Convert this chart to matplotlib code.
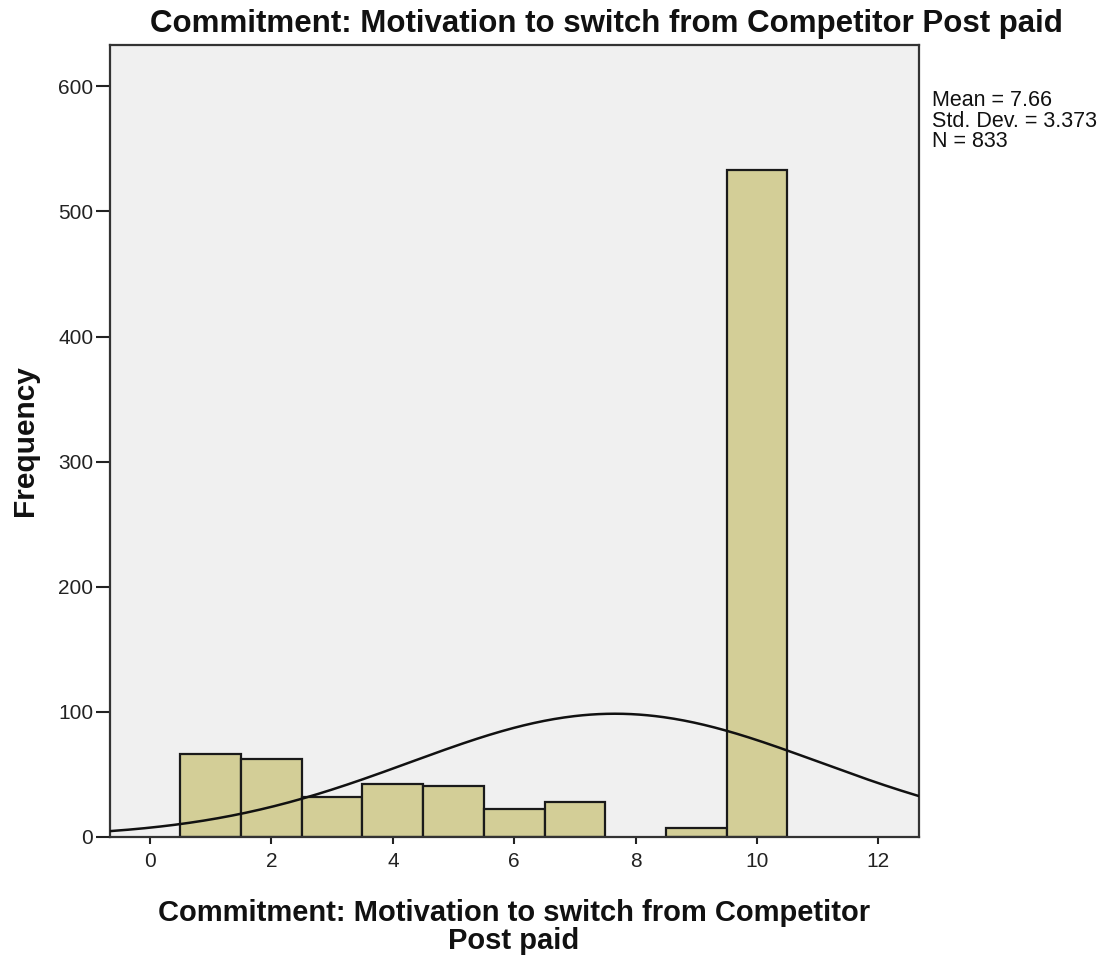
import numpy as np
import matplotlib
matplotlib.use("Agg")
import matplotlib.pyplot as plt

plt.rcParams['font.family'] = ['Liberation Sans', 'DejaVu Sans']

# Histogram of scores (bin centres and counts)
scores = [1, 2, 3, 4, 5, 6, 7, 8, 9, 10]
counts = [66, 62, 32, 42, 41, 22, 28, 0, 7, 533]
mean_val = 7.66
std_val = 3.373
n_total = 833

x_ticks = [0, 2, 4, 6, 8, 10, 12]
y_ticks = [0, 100, 200, 300, 400, 500, 600]

title = "Commitment: Motivation to switch from Competitor Post paid"
x_label = "Commitment: Motivation to switch from Competitor\nPost paid"

fig = plt.figure(figsize=(11.02, 9.58), dpi=100)
W, H = 1102, 958
ax = fig.add_axes([110 / W, 1 - 837 / H, (919 - 110) / W, (837 - 45) / H])
ax.set_facecolor('#F0F0F0')

bar_x = [s for s, c in zip(scores, counts) if c > 0]
bar_h = [c for c in counts if c > 0]
ax.bar(bar_x, bar_h, width=1.0, color='#D3CE97', edgecolor='#1a1a1a',
       linewidth=1.6, zorder=2)

xlim = (-0.66, 12.67)
ax.set_xlim(*xlim)
ax.set_ylim(0, 633)

# Fitted normal curve scaled to the histogram (bin width 1)
xs = np.linspace(xlim[0], xlim[1], 400)
pdf = np.exp(-0.5 * ((xs - mean_val) / std_val) ** 2) / (std_val * np.sqrt(2 * np.pi))
ax.plot(xs, n_total * 1.0 * pdf, color='#111111', linewidth=1.8, zorder=3)

ax.set_xticks(x_ticks)
ax.set_yticks(y_ticks)
ax.tick_params(axis='x', length=5, width=1.5, direction='out', labelsize=15,
               pad=6, colors='#222222')
ax.tick_params(axis='y', length=10, width=1.5, direction='out', labelsize=15,
               pad=2, colors='#222222')
for sp in ax.spines.values():
    sp.set_linewidth(1.6)
    sp.set_color('#333333')

fig.text(606 / W, 1 - 24 / H, title, ha='center', va='center',
         fontsize=22.5, fontweight='bold', color='#111111')
fig.text(514 / W, 1 - 927 / H, x_label, ha='center', va='center',
         fontsize=21, fontweight='bold', color='#111111', linespacing=0.98)
fig.text(25 / W, 1 - 441 / H, "Frequency", ha='center', va='center',
         rotation=90, fontsize=21.5, fontweight='bold', color='#111111')

stats = f"Mean = {mean_val:.2f}\nStd. Dev. = {std_val:.3f}\nN = {n_total}"
fig.text(932 / W, 1 - 90 / H, stats, ha='left', va='top', fontsize=15.5,
         color='#111111', linespacing=0.98)

fig.savefig("out.png", dpi=100, facecolor='white')
